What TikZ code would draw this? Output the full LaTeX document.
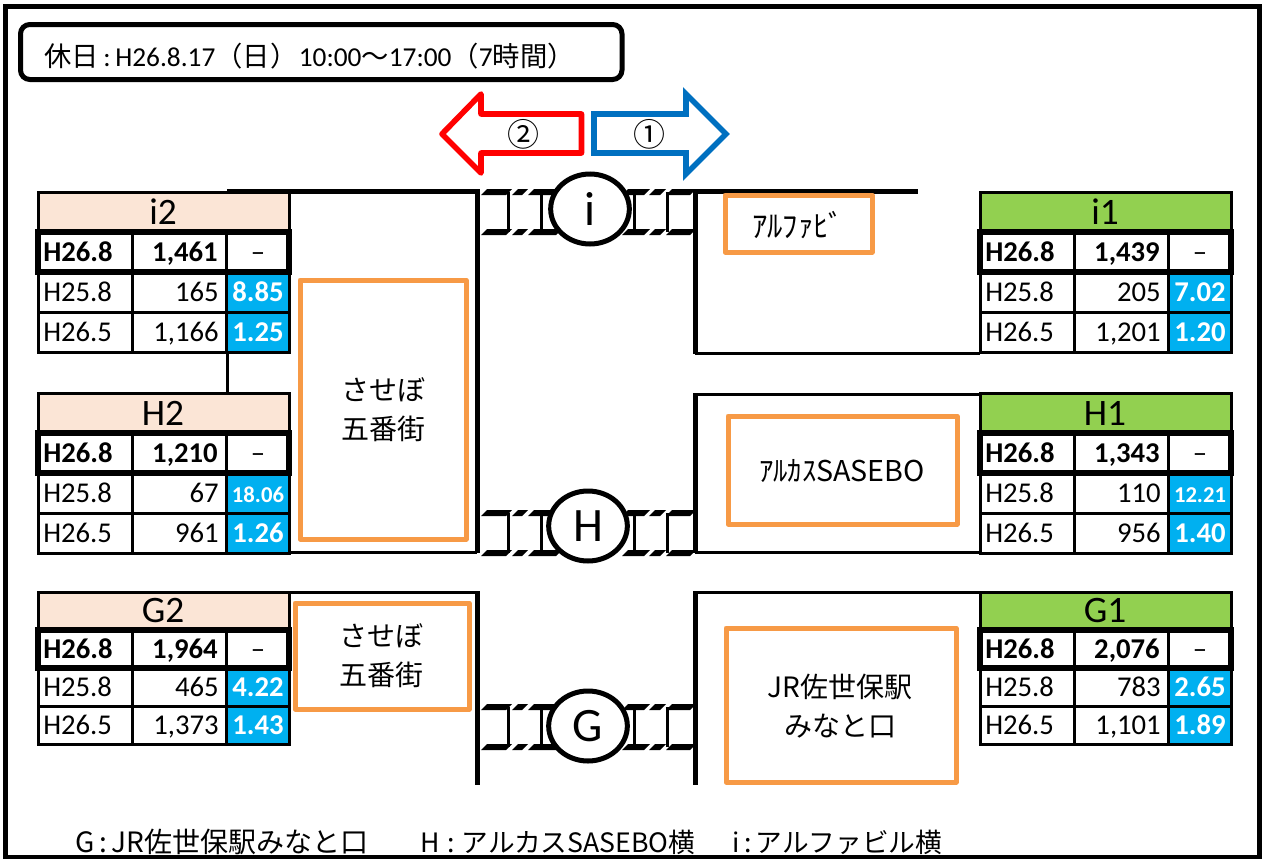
\documentclass[tikz,border=0pt]{standalone}
\usepackage{fontspec}
\setmainfont{Carlito}
\newfontfamily\cjk{Noto Sans CJK JP}
\usetikzlibrary{shapes.geometric}
\definecolor{headleft}{HTML}{FBE5D6}
\definecolor{headright}{HTML}{92D050}
\definecolor{ratiofill}{HTML}{00B0F0}
\definecolor{shoporange}{HTML}{F79A46}
\definecolor{arrowblue}{HTML}{0070C0}
\tikzset{
	road/.style={line width=3.75pt, black},
	sideroad/.style={line width=2.25pt, black},
	thinrule/.style={line width=2.25pt, black},
	heavyrule/.style={line width=4.2pt, black},
	shopbox/.style={line width=3.75pt, shoporange, line join=round},
	shoplabel/.style={font=\cjk\fontsize{21}{29}\selectfont, align=center, black},
	cellbase/.style={inner sep=0pt, text height=14pt, text depth=0pt, font=\fontsize{21.5}{25}\selectfont},
	cellbold/.style={cellbase, font=\bfseries\fontsize{21.5}{25}\selectfont},
	ratiotext/.style={cellbold, white},
	headtext/.style={inner sep=0pt, font=\fontsize{28}{32}\selectfont},
	crossing/.style={ellipse, draw, fill=white, line width=3.75pt, minimum width=59pt, minimum height=52.5pt, inner sep=0pt, font=\fontsize{36}{40}\selectfont},
	footnote/.style={anchor=west, inner sep=0pt, font=\cjk\fontsize{20}{24}\selectfont}
}
\newcommand{\flowtable}[8]{
	\begin{scope}[#2]
		\fill[#3] (0,0) rectangle (251,40);
		\fill[ratiofill] (188,80) rectangle (251,160);
		\draw[thinrule] (0,0) rectangle (251,160);
		\draw[thinrule] (0,120) -- (251,120);
		\draw[thinrule] (94,40) -- (94,160);
		\draw[thinrule] (188,40) -- (188,160);
		\draw[heavyrule] (0,40) rectangle (251,80);
		\node[headtext] (#1head) at (125,20) {#1};
		\node[cellbold, anchor=west] (#1a) at (5,60) {H26.8};
		\node[cellbold, anchor=east] (#1b) at (180,60) {#4};
		\node[cellbase] (#1c) at (220,60) {–};
		\node[cellbase, anchor=west] (#1d) at (5,100) {H25.8};
		\node[cellbase, anchor=east] (#1e) at (181,100) {#5};
		\node[ratiotext] (#1f) at (220,100) {#6};
		\node[cellbase, anchor=west] (#1g) at (5,140) {H26.5};
		\node[cellbase, anchor=east] (#1h) at (181,140) {#7};
		\node[ratiotext] (#1k) at (220,140) {#8};
	\end{scope}
}
\newcommand{\crosswalk}[1]{
	\begin{scope}[shift={(0,#1)}]
		\foreach \rail in {0,40}
			\foreach \from/\to in {481/506, 512/522, 528/556, 622/644, 649/660, 666/690}
				\fill[black] (\from,\rail+3) -- (\to,\rail+3) -- (\to+6,\rail-3) -- (\from+6,\rail-3) -- cycle;
		\foreach \post in {508,541,634,667}
			\draw[sideroad] (\post,0) -- (\post,40);
	\end{scope}
}
\begin{document}
\begin{tikzpicture}[x=0.75pt, y=-0.75pt]
	\useasboundingbox (0,0) rectangle (1263,860);
	\draw[line width=3.5pt, black] (5.5,6.5) rectangle (1259.5,857);
	\draw[line width=3.75pt, rounded corners=7pt] (20.5,24.5) rectangle (622,79.5);
	\node[anchor=west, inner sep=0pt, font=\fontsize{20.5}{24}\selectfont] (daylabel) at (44,56) {{\cjk 休日}\,:\,H26.8.17{\cjk （日）}\hspace{1pt}10:00{\cjk ～}17:00{\cjk （}7{\cjk 時間）}};

	\draw[line width=4.2pt, red, line join=round] (442,134) -- (481,94) -- (481,114) -- (581.5,114) -- (581.5,153) -- (481,153) -- (481,173) -- cycle;
	\draw[line width=4.2pt, arrowblue] (726,134) -- (686,94) -- (686,114) -- (594,114) -- (594,153) -- (686,153) -- (686,174) -- cycle;
	\node[font=\cjk\fontsize{24}{28}\selectfont, inner sep=0pt] (dirtwo) at (523,134) {②};
	\node[font=\cjk\fontsize{24}{28}\selectfont, inner sep=0pt] (dirone) at (649,134) {①};

	\draw[sideroad] (227,352) -- (227,394);
	\draw[sideroad] (290,552) -- (477,552);
	\draw[sideroad] (695,552) -- (980,552);
	\draw[sideroad] (695,353) -- (980,353);
	\draw[sideroad] (695,394) -- (980,394);
	\draw[sideroad] (290,592) -- (477,592);
	\draw[sideroad] (695,592) -- (980,592);

	\flowtable{i2}{shift={(38,192)}}{headleft}{1,461}{165}{8.85}{1,166}{1.25}
	\flowtable{H2}{shift={(38,393)}}{headleft}{1,210}{67}{{\fontsize{17}{20}\selectfont 18.06}}{961}{1.26}
	\flowtable{G2}{shift={(38,592)}, yscale=0.95}{headleft}{1,964}{465}{4.22}{1,373}{1.43}
	\flowtable{i1}{shift={(980,192)}}{headright}{1,439}{205}{7.02}{1,201}{1.20}
	\flowtable{H1}{shift={(980,393)}}{headright}{1,343}{110}{{\fontsize{17}{20}\selectfont 12.21}}{956}{1.40}
	\flowtable{G1}{shift={(980,592)}, yscale=0.95}{headright}{2,076}{783}{2.65}{1,101}{1.89}

	\draw[road] (227,191) -- (477,191);
	\draw[road] (477,189) -- (477,553);
	\draw[road] (477,591) -- (477,785);
	\draw[road] (695,191) -- (918,191);
	\draw[road] (695,189) -- (695,354);
	\draw[road] (695,393) -- (695,553);
	\draw[road] (695,591) -- (695,785);

	\crosswalk{192}
	\crosswalk{513}
	\crosswalk{707}
	\node[crossing] (crossi) at (590,209) {i};
	\node[crossing] (crossh) at (588,526) {H};
	\node[crossing] (crossg) at (588,726) {G};

	\draw[shopbox] (725,195) rectangle (872,252);
	\node[shoplabel, font=\cjk\fontsize{23}{26}\selectfont] (alfa) at (798,225) {ｱﾙﾌｧﾋﾞ};
	\draw[shopbox] (300,280) rectangle (466,539);
	\node[shoplabel] (gobangaia) at (383,410) {させぼ\\五番街};
	\draw[shopbox] (728,416) rectangle (957,524);
	\node[shoplabel, font=\cjk\fontsize{21.5}{25}\selectfont] (arkas) at (842,471) {ｱﾙｶｽSASEBO};
	\draw[shopbox] (295,603) rectangle (469,709);
	\node[shoplabel] (gobangaib) at (381,656) {させぼ\\五番街};
	\draw[shopbox] (726,628) rectangle (956,782);
	\node[shoplabel] (station) at (840,706) {JR佐世保駅\\みなと口};

	\node[footnote, font=\cjk\fontsize{21}{24}\selectfont] (noteg) at (75,842) {G\,:\,JR佐世保駅みなと口};
	\node[footnote] (noteh) at (420,842) {H\;:\;アルカスSASEBO横};
	\node[footnote] (notei) at (732,842) {i\,:\,アルファビル横};
\end{tikzpicture}
\end{document}
